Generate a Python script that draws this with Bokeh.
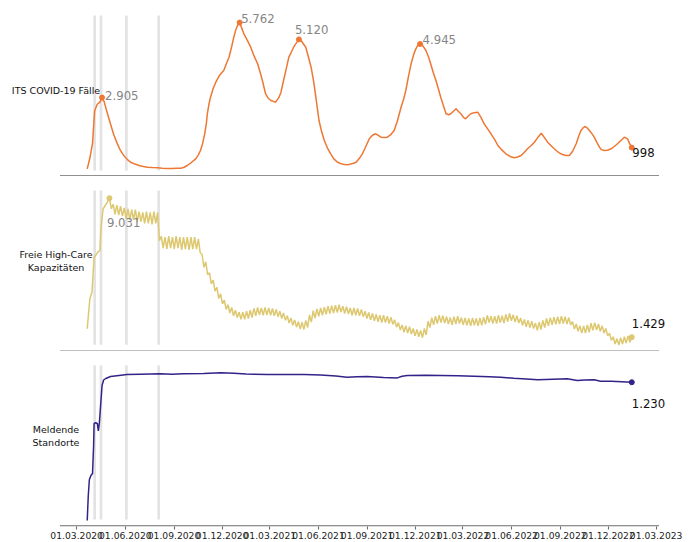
import pandas as pd
from bokeh.plotting import figure
from bokeh.layouts import column
from bokeh.models import Range1d, Label, FixedTicker
from bokeh.embed import file_html
from bokeh.resources import INLINE

ORIGIN = pd.Timestamp("2020-03-01")  # day 0 of the day counters below

# ---------------- data ----------------
its_day = [20, 25, 30, 34, 39, 44, 48, 52, 56, 64, 70, 77, 83, 89, 96, 102, 110, 118, 126, 134,
           143, 153, 162, 171, 180, 190, 197, 203, 209, 216, 225, 230, 234, 238, 242, 245, 247, 250,
           253, 258, 263, 270, 278, 283, 288, 293, 297, 301, 304, 308, 312, 316, 322, 329, 335, 342,
           347, 351, 357, 362, 367, 372, 376, 382, 386, 391, 396, 401, 406, 410, 415, 420, 425, 433,
           438, 443, 448, 452, 458, 463, 468, 474, 480, 486, 493, 500, 506, 512, 518, 523, 528, 534,
           540, 546, 553, 559, 565, 570, 575, 581, 587, 593, 600, 606, 613, 618, 622, 627, 632, 637,
           641, 645, 649, 654, 660, 665, 669, 674, 679, 684, 688, 693, 698, 703, 707, 712, 717, 721,
           726, 731, 735, 740, 745, 751, 758, 764, 770, 777, 783, 790, 796, 803, 811, 819, 827, 833,
           840, 846, 852, 859, 865, 871, 878, 884, 890, 898, 906, 912, 918, 925, 931, 937, 944, 949,
           953, 957, 961, 965, 969, 974, 978, 983, 988, 992, 997, 1003, 1010, 1016, 1022, 1028, 1035,
           1041, 1045, 1049]
its_val = [190, 600, 1150, 2400, 2650, 2730, 2905, 2750, 2450, 1900, 1500, 1140, 880, 700, 540, 440,
           370, 316, 280, 251, 238, 229, 210, 202, 205, 210, 213, 250, 316, 420, 571, 720, 888, 1150,
           1524, 1900, 2286, 2650, 2918, 3250, 3490, 3750, 3935, 4200, 4442, 4850, 5204, 5500, 5650,
           5762, 5550, 5333, 5100, 4823, 4500, 4190, 3850, 3554, 3048, 2880, 2792, 2760, 2728, 2900,
           3100, 3554, 4000, 4442, 4650, 4823, 4980, 5120, 5050, 4823, 4450, 4061, 3500, 2918, 2030,
           1600, 1269, 980, 762, 570, 442, 380, 350, 343, 370, 400, 442, 580, 762, 1020, 1333, 1470,
           1524, 1460, 1394, 1380, 1394, 1480, 1650, 2000, 2537, 2850, 3173, 3700, 4190, 4550, 4762,
           4900, 4945, 4880, 4697, 4450, 4190, 3850, 3554, 3200, 2918, 2600, 2286, 2250, 2286, 2380,
           2476, 2380, 2286, 2150, 2095, 2200, 2286, 2330, 2347, 2150, 1905, 1700, 1524, 1300, 1078,
           920, 762, 660, 610, 640, 697, 820, 952, 1080, 1204, 1370, 1547, 1380, 1204, 1040, 888, 800,
           735, 700, 697, 850, 1143, 1450, 1650, 1750, 1802, 1740, 1650, 1520, 1394, 1200, 1013, 920,
           888, 900, 952, 1040, 1143, 1260, 1394, 1333, 1150, 998]
its_mark_day = [48, 308, 420, 649]
its_mark_val = [2905, 5762, 5120, 4945]

hc_early_day = [20, 25, 29, 33, 37, 40, 44, 46, 50, 54, 58]
hc_early_val = [1887, 3527, 3888, 5803, 5950, 6076, 6169, 7356, 8450, 8630, 8810]
hc_halfweek_first_day = 62
hc_halfweek_val = [
    9031, 8450, 8700, 8150, 8650, 8100, 8600, 8050, 8500, 7900, 8450, 7850, 8400, 7850,
    8400, 7750, 8300, 7750, 8250, 7650, 8300, 7650, 8250, 7600, 8300, 7650, 8250, 6700,
    6950, 6300, 6900, 6250, 6950, 6300, 6900, 6250, 6950, 6300, 6900, 6200, 6900, 6250,
    6900, 6200, 6900, 6250, 6900, 6250, 6800, 6050, 5950, 5250, 5550, 4850, 4950, 4350,
    4550, 3950, 4150, 3550, 3800, 3250, 3450, 2950, 3200, 2750, 3050, 2600, 2900, 2500,
    2800, 2400, 2800, 2400, 2850, 2450, 2900, 2500, 3000, 2600, 3050, 2650, 3025, 2625,
    3050, 2650, 3025, 2625, 3000, 2600, 2950, 2550, 2850, 2450, 2750, 2350, 2600, 2200,
    2475, 2075, 2375, 1975, 2275, 1875, 2250, 1850, 2350, 1950, 2650, 2250, 2875, 2475,
    2975, 2575, 3025, 2625, 3075, 2675, 3125, 2725, 3150, 2750, 3175, 2775, 3200, 2800,
    3125, 2725, 3100, 2700, 3025, 2625, 3025, 2625, 3000, 2600, 2950, 2550, 2850, 2450,
    2775, 2375, 2725, 2325, 2675, 2275, 2625, 2225, 2625, 2225, 2575, 2175, 2525, 2125,
    2375, 1975, 2225, 1825, 2100, 1700, 2050, 1650, 2000, 1600, 1900, 1500, 1850, 1450,
    1800, 1400, 1900, 1550, 2300, 1950, 2500, 2100, 2575, 2175, 2625, 2225, 2600, 2200,
    2550, 2150, 2500, 2100, 2550, 2150, 2575, 2175, 2500, 2100, 2475, 2075, 2450, 2050,
    2475, 2075, 2450, 2050, 2475, 2075, 2525, 2125, 2625, 2225, 2575, 2175, 2575, 2175,
    2625, 2225, 2600, 2200, 2675, 2275, 2725, 2325, 2650, 2250, 2600, 2200, 2475, 2075,
    2400, 2000, 2350, 1950, 2300, 1900, 2200, 1800, 2250, 1850, 2350, 1950, 2450, 2050,
    2500, 2100, 2525, 2125, 2550, 2150, 2575, 2175, 2550, 2150, 2500, 2100, 2275, 1875,
    2150, 1750, 2050, 1650, 2050, 1650, 2100, 1700, 2200, 1800, 2225, 1825, 2150, 1750,
    2050, 1650, 1900, 1500, 1650, 1250, 1450, 1050, 1350, 1000, 1400, 1050, 1450, 1100,
    1500, 1150, 1429]
hc_mark_day = [62]
hc_mark_val = [9031]

site_day = [20, 22, 24, 27, 30, 32, 33, 36, 39, 41, 43, 45, 46, 48, 51, 55, 64, 80, 95, 120, 158,
            180, 202, 240, 272, 297, 320, 335, 360, 398, 430, 461, 490, 511, 530, 549, 580, 606,
            615, 625, 660, 688, 720, 751, 780, 801, 826, 850, 871, 900, 927, 946, 960, 978, 990,
            1010, 1030, 1049]
site_val = [308, 475, 580, 608, 621, 800, 955, 960, 955, 905, 960, 1060, 1108, 1208, 1245, 1255,
            1268, 1275, 1281, 1283, 1286, 1284, 1286, 1289, 1293, 1290, 1285, 1283, 1282, 1281,
            1281, 1279, 1272, 1263, 1266, 1268, 1262, 1259, 1270, 1275, 1276, 1275, 1273, 1270,
            1266, 1263, 1257, 1252, 1246, 1250, 1253, 1241, 1245, 1246, 1237, 1236, 1233, 1230]

vline_dates = ["2020-04-04", "2020-04-16", "2020-06-03", "2020-08-03"]
tick_dates = ["2020-03-01", "2020-06-01", "2020-09-01", "2020-12-01", "2021-03-01", "2021-06-01",
              "2021-09-01", "2021-12-01", "2022-03-01", "2022-06-01", "2022-09-01", "2022-12-01",
              "2023-03-01"]

panel_names = ["ITS COVID-19 Fälle", "Freie High-Care\nKapazitäten", "Meldende\nStandorte"]

# ---------------- helpers ----------------
def to_ts(days):
    return [ORIGIN + pd.Timedelta(days=float(d)) for d in days]

def ms(ts):
    return pd.Timestamp(ts).timestamp() * 1000.0

def day_ms(d):
    return ms(ORIGIN + pd.Timedelta(days=float(d)))

def de_num(v):
    return f"{v:,}".replace(",", ".")

FONT = "DejaVu Sans"
ORANGE = "#EE7733"
SAND = "#DDC870"
INDIGO = "#332288"
VLINE = "#e3e3e3"

# layout (pixels)
W = 697
AX_LEFT, AX_RIGHT = 59.5, 658.5     # axes area inside the full-width frame

# axes data limits: data span +-5 %
first_day = min(its_day[0], hc_early_day[0], site_day[0])
last_day = max(its_day[-1], site_day[-1])
pad = 0.05 * (last_day - first_day)
ax_x0 = day_ms(first_day - pad)
ax_x1 = day_ms(last_day + pad)
per_px = (ax_x1 - ax_x0) / (AX_RIGHT - AX_LEFT)
xr = Range1d(start=ax_x0 - AX_LEFT * per_px, end=ax_x1 + (W - AX_RIGHT) * per_px)

tick_ms = [ms(t) for t in tick_dates]
tick_text = {m: pd.Timestamp(t).strftime("%d.%m.%Y") for m, t in zip(tick_ms, tick_dates)}
vline_ts = [pd.Timestamp(d) for d in vline_dates]


def make_fig(frame_h, yr, axes_lim, spine_color, last):
    p = figure(frame_width=W, frame_height=frame_h, x_axis_type="datetime", x_range=xr,
               y_range=Range1d(*yr), output_backend="svg", toolbar_location=None,
               min_border_left=0, min_border_right=0, min_border_top=0, min_border_bottom=0)
    p.yaxis.visible = False
    p.grid.visible = False
    p.outline_line_color = None
    p.background_fill_color = "white"
    p.border_fill_color = "white"
    ax = p.xaxis[0]
    if last:
        ax.axis_line_color = None
        ax.ticker = FixedTicker(ticks=tick_ms)
        ax.major_label_overrides = tick_text
        ax.minor_tick_line_color = None
        ax.major_tick_line_color = spine_color
        ax.major_tick_line_width = 1.1
        ax.major_tick_out = 3
        ax.major_tick_in = 0
        ax.major_label_standoff = 2
        ax.major_label_text_font = FONT
        ax.major_label_text_font_size = "9.2px"
        ax.major_label_text_color = "#222222"
    else:
        ax.visible = False
    n = len(vline_ts)
    p.segment(x0=vline_ts, y0=[axes_lim[0]] * n, x1=vline_ts, y1=[axes_lim[1]] * n,
              line_color=VLINE, line_width=2.7)
    # bottom spine of the axes area
    y_sp = yr[0] + 0.6 * (yr[1] - yr[0]) / frame_h
    p.segment(x0=[ax_x0], y0=[y_sp], x1=[ax_x1], y1=[y_sp], line_color=spine_color,
              line_width=1.2)
    return p


def add_label(p, x, y, text, color, dx, dy, size="11.7px"):
    p.add_layout(Label(x=x, y=y, text=text, x_offset=dx, y_offset=dy, text_font=FONT,
                       text_font_size=size, text_color=color, text_align="left",
                       text_baseline="alphabetic"))


def add_name(p, text, y_from_bottom):
    p.add_layout(Label(x=55.5, y=y_from_bottom, x_units="screen", y_units="screen", text=text,
                       text_font=FONT, text_font_size="9.5px", text_color="#111111",
                       text_align="center", text_baseline="middle"))


# ---------------- panel 1: ITS COVID-19 ----------------
p1 = make_fig(176, (-103, 6602), (126, 6030), "#6b6b6b", False)
p1.line(to_ts(its_day), its_val, line_color=ORANGE, line_width=1.5)
p1.scatter(to_ts(its_mark_day + [its_day[-1]]), its_mark_val + [its_val[-1]], size=5,
           color=ORANGE)
offsets1 = [(3, 2), (1.5, 4), (-4, 10), (2.5, 4.5)]
for d, v, (dx, dy) in zip(its_mark_day, its_mark_val, offsets1):
    add_label(p1, day_ms(d), v, de_num(v), "#858585", dx, dy)
add_label(p1, day_ms(its_day[-1]), its_val[-1], de_num(its_val[-1]), "#111111", 0.5, -4.5)
add_name(p1, panel_names[0], 86)

# ---------------- panel 2: free high-care ----------------
p2 = make_fig(175, (645, 10216), (1012, 9450), "#ababab", False)
hc_half_days = [hc_halfweek_first_day + 3.5 * k for k in range(len(hc_halfweek_val))]
hc_days = hc_early_day + hc_half_days
hc_vals = hc_early_val + hc_halfweek_val
p2.line(to_ts(hc_days), hc_vals, line_color=SAND, line_width=1.5)
p2.scatter(to_ts(hc_mark_day + [hc_days[-1]]), hc_mark_val + [hc_vals[-1]], size=5, color=SAND)
add_label(p2, day_ms(hc_mark_day[0]), hc_mark_val[0], de_num(hc_mark_val[0]), "#858585",
          -2.5, -24)
add_label(p2, day_ms(hc_days[-1]), hc_vals[-1], de_num(hc_vals[-1]), "#111111", 0, 13.5)
add_name(p2, panel_names[1], 90.5)

# ---------------- panel 3: reporting sites ----------------
p3 = make_fig(175, (268, 1435), (315, 1341), "#6b6b6b", True)
p3.line(to_ts(site_day), site_val, line_color=INDIGO, line_width=1.5)
p3.scatter(to_ts([site_day[-1]]), [site_val[-1]], size=5, color=INDIGO)
add_label(p3, day_ms(site_day[-1]), site_val[-1], de_num(site_val[-1]), "#111111", 0, -21.5)
add_name(p3, panel_names[2], 90.5)

layout = column(p1, p2, p3, spacing=0)
open("out.html", "w").write(file_html(layout, INLINE))
